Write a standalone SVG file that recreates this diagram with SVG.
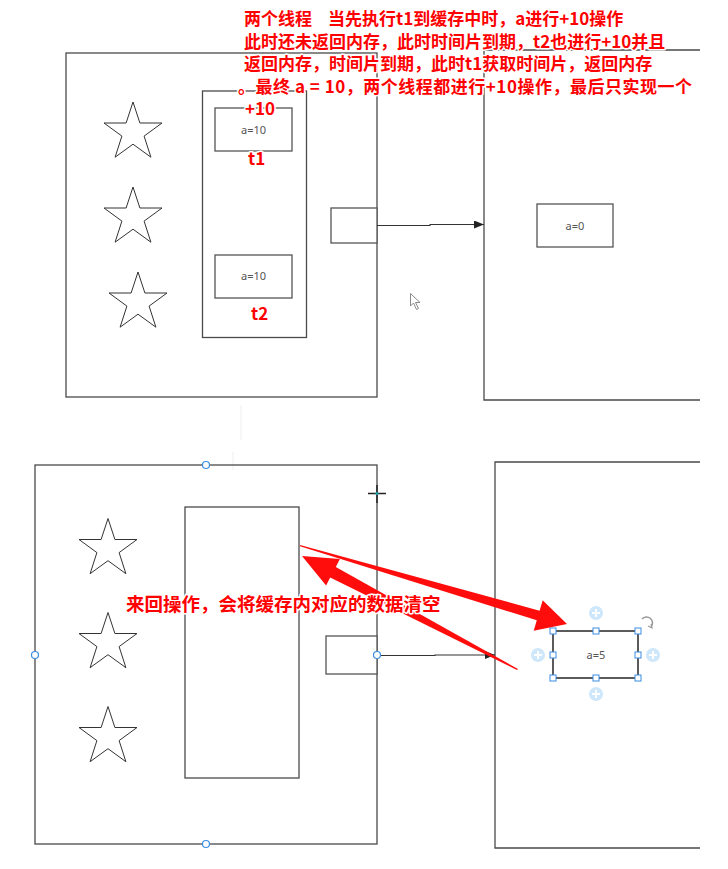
<svg xmlns="http://www.w3.org/2000/svg" width="728" height="869" viewBox="0 0 728 869">
<style>
.frame{fill:none;stroke:#4a4a4a;stroke-width:1.3}
.box{fill:#fff;stroke:#555;stroke-width:1.3}
.star{fill:#fff;stroke:#333;stroke-width:1}
.val{font-family:"Noto Sans","DejaVu Sans",sans-serif;font-size:11px;fill:#555;text-anchor:middle}
.note{font-family:"Noto Sans CJK SC","Noto Sans",sans-serif;font-weight:bold;fill:#ff0000;paint-order:stroke;stroke:#fff;stroke-width:3px;stroke-linejoin:round}
.conn{fill:none;stroke:#333;stroke-width:1.1}
.red{fill:#ff0d0d}
.handle{fill:#fff;stroke:#3a8ee0;stroke-width:1}
.pt{fill:#fff;stroke:#3a8ee0;stroke-width:1.2}
.plus{fill:#cfe7fa}
.plusl{stroke:#fff;stroke-width:2}
</style>
<defs>
<marker id="ah" viewBox="0 0 10 8" refX="10" refY="4" markerWidth="10" markerHeight="8" markerUnits="userSpaceOnUse" orient="auto">
<path d="M0,0 L10,4 L0,8 z" fill="#222"/>
</marker>
<path id="starShape" d="M0,-30.5 L6.9,-9.5 L29,-9.5 L11.1,3.6 L17.9,24.7 L0,11.7 L-17.9,24.7 L-11.1,3.6 L-29,-9.5 L-6.9,-9.5 Z"/>
<g id="plusIcon"><circle r="7" class="plus"/><line x1="-4" y1="0" x2="4" y2="0" class="plusl"/><line x1="0" y1="-4" x2="0" y2="4" class="plusl"/></g>
</defs>
<rect width="728" height="869" fill="#fff"/>

<!-- faint guide lines -->
<line x1="241" y1="405" x2="241" y2="440" stroke="#eee" stroke-width="1"/>
<line x1="233" y1="452" x2="233" y2="470" stroke="#eee" stroke-width="1"/>

<!-- TOP PANEL -->
<g id="top-left-frame">
<rect x="66" y="53" width="311" height="344" class="frame"/>
</g>
<g id="top-right-frame">
<path d="M700,50 L484,50 L484,400 L700,400" class="frame"/>
</g>
<g id="top-stars">
<use href="#starShape" x="133" y="132.5" class="star"/>
<use href="#starShape" x="133" y="217.5" class="star"/>
<use href="#starShape" x="138" y="302.5" class="star"/>
</g>
<g id="top-cache">
<rect x="202.5" y="91" width="104" height="246.5" class="frame"/>
</g>
<g id="top-t1">
<rect x="215" y="108" width="77" height="43" class="box"/>
<text x="253.5" y="133.5" class="val">a=10</text>
</g>
<g id="top-t2">
<rect x="215" y="255" width="77" height="43" class="box"/>
<text x="253.5" y="280" class="val">a=10</text>
</g>
<g id="top-port">
<rect x="331" y="208" width="46" height="35" class="box"/>
</g>
<g id="top-memory-a0">
<rect x="537" y="204" width="76" height="43" class="box"/>
<text x="575" y="229.5" class="val">a=0</text>
</g>
<g id="top-connectors">
<path d="M377,225.5 L430,225.5 L430,224.5 L484,224.5" class="conn" marker-end="url(#ah)"/>
</g>
<g id="cursor">
<path d="M410.5,293.5 L410.5,306 L413.5,303 L416.5,309.5 L418.5,308.5 L415.5,302.5 L420,302.5 Z" fill="#fff" stroke="#8a8a8a" stroke-width="1"/>
</g>

<!-- top notes -->
<g id="top-note">
<text class="note" font-size="17"><tspan x="244" y="25">两个线程</tspan><tspan x="328" y="25">当先执行t1到缓存中时，a进行+10操作</tspan><tspan x="244" y="47.5">此时还未返回内存，此时时间片到期，t2也进行+10并且</tspan><tspan x="244" y="70">返回内存，时间片到期，此时t1获取时间片，返回内存</tspan><tspan x="238" y="92.5" textLength="454" lengthAdjust="spacing">。最终 a = 10，两个线程都进行+10操作，最后只实现一个</tspan><tspan x="245" y="115">+10</tspan></text>
</g>
<g id="label-t1"><text x="248" y="165" class="note" font-size="17">t1</text></g>
<g id="label-t2"><text x="251" y="320" class="note" font-size="17">t2</text></g>

<!-- BOTTOM PANEL -->
<g id="bottom-left-frame">
<rect x="35" y="465" width="342" height="379" class="frame"/>
<circle cx="206" cy="465" r="3.5" class="pt"/>
<circle cx="35" cy="655" r="3.5" class="pt"/>
<circle cx="206" cy="844" r="3.5" class="pt"/>
</g>
<g id="bottom-right-frame">
<path d="M700,462 L495,462 L495,848 L700,848" class="frame"/>
</g>
<g id="bottom-stars">
<use href="#starShape" x="108" y="549" class="star"/>
<use href="#starShape" x="108" y="643" class="star"/>
<use href="#starShape" x="108" y="737" class="star"/>
</g>
<g id="bottom-cache">
<rect x="185" y="507" width="114" height="271" class="frame"/>
</g>
<g id="bottom-port">
<rect x="326" y="636" width="51" height="38" class="box"/>
</g>
<g id="bottom-connectors">
<path d="M377,655.5 L435,655.5 L435,655 L495,655" class="conn" marker-end="url(#ah)"/>
<circle cx="377" cy="655" r="3.5" class="pt"/>
</g>
<g id="crosshair">
<line x1="368" y1="493.5" x2="386" y2="493.5" stroke="#222" stroke-width="1.5"/>
<line x1="377" y1="485" x2="377" y2="503" stroke="#222" stroke-width="1.5"/>
<circle cx="377" cy="493.5" r="1.6" fill="#1aa0a8"/>
</g>
<g id="bottom-memory-a5">
<rect x="553" y="631" width="85" height="47" fill="#fff" stroke="#333" stroke-width="1.6"/>
<text x="596" y="659" class="val">a=5</text>
<rect x="550" y="628" width="6" height="6" class="handle"/>
<rect x="593" y="628" width="6" height="6" class="handle"/>
<rect x="635" y="628" width="6" height="6" class="handle"/>
<rect x="550" y="652" width="6" height="6" class="handle"/>
<rect x="635" y="652" width="6" height="6" class="handle"/>
<rect x="550" y="675" width="6" height="6" class="handle"/>
<rect x="593" y="675" width="6" height="6" class="handle"/>
<rect x="635" y="675" width="6" height="6" class="handle"/>
<use href="#plusIcon" x="596" y="613"/>
<use href="#plusIcon" x="538" y="655"/>
<use href="#plusIcon" x="653" y="655"/>
<use href="#plusIcon" x="596" y="694"/>
<path d="M642,619 A6,6 0 1 1 651,627" fill="none" stroke="#999" stroke-width="1.5"/>
<path d="M648,626 L652,628 L651,624" fill="none" stroke="#999" stroke-width="1.2"/>
</g>

<!-- red annotation arrows -->
<g id="red-arrows">
<path d="M300,545 L539.6,610.7 L542.7,600.2 L567,624 L533.7,630.8 L536.8,620.3 L300,546.2 Z" class="red"/>
<path d="M518,669 L335.8,566.9 L339.9,558.9 L302,556 L326.1,585.5 L330.2,577.5 L517,670 Z" class="red"/>
</g>
<g id="bottom-note">
<text x="126" y="611" class="note" font-size="18.5">来回操作，会将缓存内对应的数据清空</text>
</g>
</svg>
